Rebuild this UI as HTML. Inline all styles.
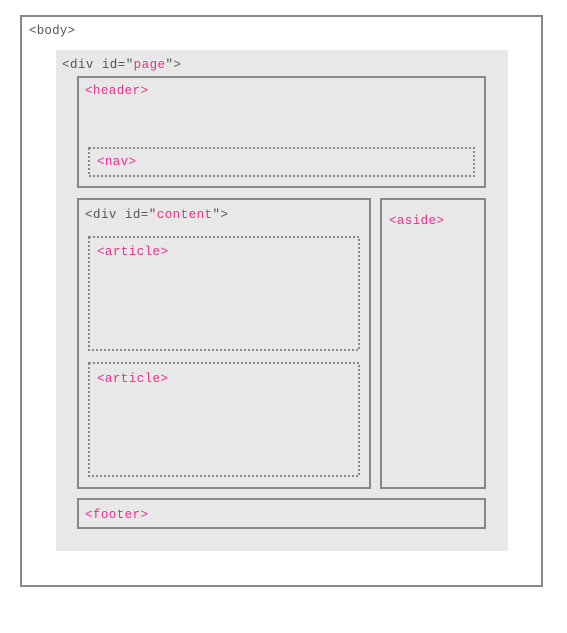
<!DOCTYPE html>
<html><head><style>body{margin:0;background:#fff}svg{display:block}text{font-family:"Liberation Mono",monospace;font-size:12.5px;fill:#555}.p{fill:#e8308a}</style></head>
<body>
<svg width="567" height="633" xmlns="http://www.w3.org/2000/svg">
<rect x="21" y="16" width="521" height="570" fill="#fff" stroke="#888" stroke-width="2"/>
<rect x="56" y="50" width="452" height="501" fill="#e8e8e8"/>
<g fill="none" stroke="#888" stroke-width="2">
<rect x="78" y="77" width="407" height="110"/>
<rect x="78" y="199" width="292" height="289"/>
<rect x="381" y="199" width="104" height="289"/>
<rect x="78" y="499" width="407" height="29"/>
</g>
<g fill="none" stroke="#888" stroke-width="2" stroke-dasharray="2,2">
<rect x="89" y="148" width="385" height="28"/>
<rect x="89" y="237" width="270" height="113"/>
<rect x="89" y="363" width="270" height="113"/>
</g>
<text x="29" y="34" textLength="46">&lt;body&gt;</text>
<text x="62" y="68" textLength="119">&lt;div id="<tspan class="p">page</tspan>"&gt;</text>
<text x="85" y="94" class="p" textLength="63">&lt;header&gt;</text>
<text x="97" y="165" class="p" textLength="39">&lt;nav&gt;</text>
<text x="85" y="218" textLength="143">&lt;div id="<tspan class="p">content</tspan>"&gt;</text>
<text x="97" y="255" class="p" textLength="71">&lt;article&gt;</text>
<text x="97" y="382" class="p" textLength="71">&lt;article&gt;</text>
<text x="389" y="224" class="p" textLength="55">&lt;aside&gt;</text>
<text x="85" y="518" class="p" textLength="63">&lt;footer&gt;</text>
</svg>
</body></html>
